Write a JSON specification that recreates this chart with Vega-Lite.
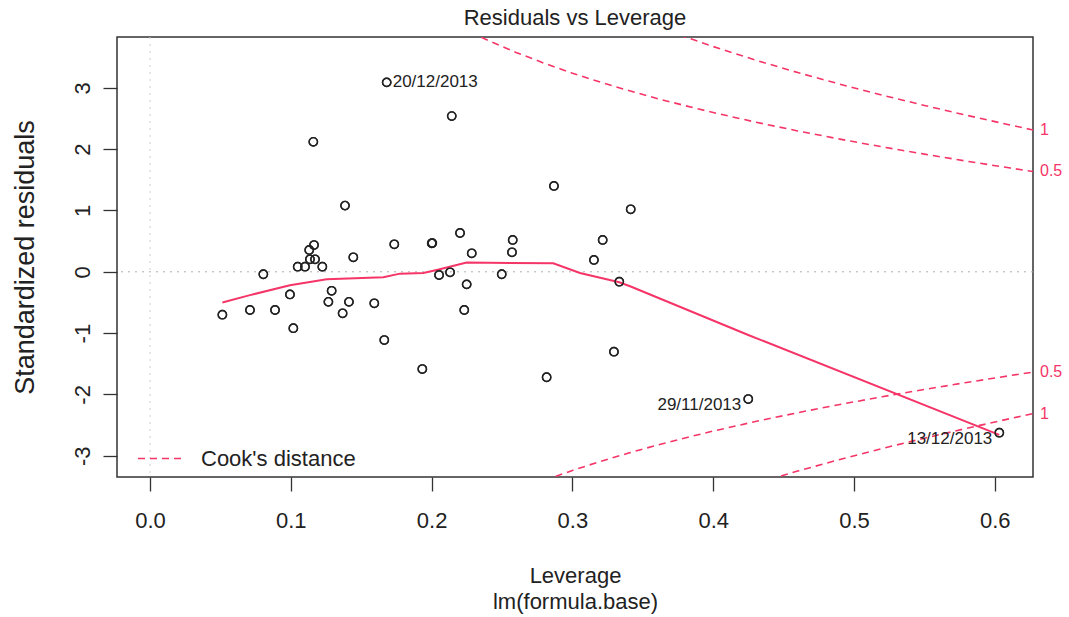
{
  "$schema": "https://vega.github.io/schema/vega-lite/v6.json",
  "width": 916,
  "height": 440,
  "autosize": "none",
  "padding": {"left": 117, "top": 37, "right": 36, "bottom": 140},
  "background": "white",
  "config": {
    "font": "Liberation Sans",
    "view": {"stroke": "#333333", "strokeWidth": 1.5}
  },
  "title": {
    "text": "Residuals vs Leverage",
    "fontSize": 22,
    "fontWeight": "normal",
    "color": "#222222",
    "anchor": "middle",
    "frame": "group",
    "offset": 7
  },
  "datasets": {
    "obs": [
      {"h": 0.0514, "r": -0.70},
      {"h": 0.0710, "r": -0.623},
      {"h": 0.0805, "r": -0.04},
      {"h": 0.0888, "r": -0.623},
      {"h": 0.0994, "r": -0.37},
      {"h": 0.1018, "r": -0.92},
      {"h": 0.1049, "r": 0.083},
      {"h": 0.1101, "r": 0.083},
      {"h": 0.1131, "r": 0.356},
      {"h": 0.1165, "r": 0.437},
      {"h": 0.1136, "r": 0.204},
      {"h": 0.1172, "r": 0.204},
      {"h": 0.1224, "r": 0.083},
      {"h": 0.1290, "r": -0.31},
      {"h": 0.1267, "r": -0.49},
      {"h": 0.1413, "r": -0.49},
      {"h": 0.1368, "r": -0.677},
      {"h": 0.1444, "r": 0.237},
      {"h": 0.1593, "r": -0.514},
      {"h": 0.1664, "r": -1.113},
      {"h": 0.1735, "r": 0.449},
      {"h": 0.2001, "r": 0.465},
      {"h": 0.2005, "r": 0.468},
      {"h": 0.2202, "r": 0.633},
      {"h": 0.2285, "r": 0.302},
      {"h": 0.2053, "r": -0.052},
      {"h": 0.2131, "r": -0.008},
      {"h": 0.2249, "r": -0.205},
      {"h": 0.2232, "r": -0.623},
      {"h": 0.2498, "r": -0.04},
      {"h": 0.2576, "r": 0.519},
      {"h": 0.2571, "r": 0.318},
      {"h": 0.3414, "r": 1.02},
      {"h": 0.3215, "r": 0.519},
      {"h": 0.3153, "r": 0.193},
      {"h": 0.3333, "r": -0.161},
      {"h": 0.3295, "r": -1.303},
      {"h": 0.1681, "r": 3.09},
      {"h": 0.2143, "r": 2.54},
      {"h": 0.1160, "r": 2.12},
      {"h": 0.1385, "r": 1.08},
      {"h": 0.2869, "r": 1.40},
      {"h": 0.1934, "r": -1.586},
      {"h": 0.2817, "r": -1.72},
      {"h": 0.4249, "r": -2.075},
      {"h": 0.6032, "r": -2.625}
    ],
    "smooth": [
      {"h": 0.0514, "r": -0.50},
      {"h": 0.0710, "r": -0.38},
      {"h": 0.0994, "r": -0.22},
      {"h": 0.1255, "r": -0.12},
      {"h": 0.1657, "r": -0.09},
      {"h": 0.1776, "r": -0.03},
      {"h": 0.1941, "r": -0.02},
      {"h": 0.2036, "r": 0.03},
      {"h": 0.2249, "r": 0.15},
      {"h": 0.2864, "r": 0.14},
      {"h": 0.3054, "r": -0.02},
      {"h": 0.3333, "r": -0.17},
      {"h": 0.3414, "r": -0.24},
      {"h": 0.4249, "r": -1.03},
      {"h": 0.6032, "r": -2.66}
    ],
    "cook": [
      {"curve": "0.5 upper", "series": "Cook's distance", "h": 0.22, "r": 3.994},
      {"curve": "0.5 upper", "series": "Cook's distance", "h": 0.24, "r": 3.775},
      {"curve": "0.5 upper", "series": "Cook's distance", "h": 0.26, "r": 3.579},
      {"curve": "0.5 upper", "series": "Cook's distance", "h": 0.28, "r": 3.402},
      {"curve": "0.5 upper", "series": "Cook's distance", "h": 0.30, "r": 3.240},
      {"curve": "0.5 upper", "series": "Cook's distance", "h": 0.32, "r": 3.092},
      {"curve": "0.5 upper", "series": "Cook's distance", "h": 0.34, "r": 2.956},
      {"curve": "0.5 upper", "series": "Cook's distance", "h": 0.36, "r": 2.828},
      {"curve": "0.5 upper", "series": "Cook's distance", "h": 0.38, "r": 2.710},
      {"curve": "0.5 upper", "series": "Cook's distance", "h": 0.40, "r": 2.598},
      {"curve": "0.5 upper", "series": "Cook's distance", "h": 0.43, "r": 2.442},
      {"curve": "0.5 upper", "series": "Cook's distance", "h": 0.46, "r": 2.298},
      {"curve": "0.5 upper", "series": "Cook's distance", "h": 0.49, "r": 2.164},
      {"curve": "0.5 upper", "series": "Cook's distance", "h": 0.52, "r": 2.038},
      {"curve": "0.5 upper", "series": "Cook's distance", "h": 0.55, "r": 1.919},
      {"curve": "0.5 upper", "series": "Cook's distance", "h": 0.58, "r": 1.805},
      {"curve": "0.5 upper", "series": "Cook's distance", "h": 0.61, "r": 1.696},
      {"curve": "0.5 upper", "series": "Cook's distance", "h": 0.63, "r": 1.626},
      {"curve": "0.5 lower", "series": "Cook's distance", "h": 0.28, "r": -3.402},
      {"curve": "0.5 lower", "series": "Cook's distance", "h": 0.30, "r": -3.240},
      {"curve": "0.5 lower", "series": "Cook's distance", "h": 0.32, "r": -3.092},
      {"curve": "0.5 lower", "series": "Cook's distance", "h": 0.34, "r": -2.956},
      {"curve": "0.5 lower", "series": "Cook's distance", "h": 0.36, "r": -2.828},
      {"curve": "0.5 lower", "series": "Cook's distance", "h": 0.38, "r": -2.710},
      {"curve": "0.5 lower", "series": "Cook's distance", "h": 0.40, "r": -2.598},
      {"curve": "0.5 lower", "series": "Cook's distance", "h": 0.43, "r": -2.442},
      {"curve": "0.5 lower", "series": "Cook's distance", "h": 0.46, "r": -2.298},
      {"curve": "0.5 lower", "series": "Cook's distance", "h": 0.49, "r": -2.164},
      {"curve": "0.5 lower", "series": "Cook's distance", "h": 0.52, "r": -2.038},
      {"curve": "0.5 lower", "series": "Cook's distance", "h": 0.55, "r": -1.919},
      {"curve": "0.5 lower", "series": "Cook's distance", "h": 0.58, "r": -1.805},
      {"curve": "0.5 lower", "series": "Cook's distance", "h": 0.61, "r": -1.696},
      {"curve": "0.5 lower", "series": "Cook's distance", "h": 0.63, "r": -1.626},
      {"curve": "1 upper", "series": "Cook's distance", "h": 0.36, "r": 4.000},
      {"curve": "1 upper", "series": "Cook's distance", "h": 0.38, "r": 3.832},
      {"curve": "1 upper", "series": "Cook's distance", "h": 0.40, "r": 3.674},
      {"curve": "1 upper", "series": "Cook's distance", "h": 0.43, "r": 3.454},
      {"curve": "1 upper", "series": "Cook's distance", "h": 0.46, "r": 3.250},
      {"curve": "1 upper", "series": "Cook's distance", "h": 0.49, "r": 3.061},
      {"curve": "1 upper", "series": "Cook's distance", "h": 0.52, "r": 2.882},
      {"curve": "1 upper", "series": "Cook's distance", "h": 0.55, "r": 2.714},
      {"curve": "1 upper", "series": "Cook's distance", "h": 0.58, "r": 2.553},
      {"curve": "1 upper", "series": "Cook's distance", "h": 0.61, "r": 2.399},
      {"curve": "1 upper", "series": "Cook's distance", "h": 0.63, "r": 2.299},
      {"curve": "1 lower", "series": "Cook's distance", "h": 0.44, "r": -3.384},
      {"curve": "1 lower", "series": "Cook's distance", "h": 0.46, "r": -3.250},
      {"curve": "1 lower", "series": "Cook's distance", "h": 0.49, "r": -3.061},
      {"curve": "1 lower", "series": "Cook's distance", "h": 0.52, "r": -2.882},
      {"curve": "1 lower", "series": "Cook's distance", "h": 0.55, "r": -2.714},
      {"curve": "1 lower", "series": "Cook's distance", "h": 0.58, "r": -2.553},
      {"curve": "1 lower", "series": "Cook's distance", "h": 0.61, "r": -2.399},
      {"curve": "1 lower", "series": "Cook's distance", "h": 0.63, "r": -2.299}
    ],
    "levels": [
      {"h": 0.62713, "r": 2.314, "level": "1"},
      {"h": 0.62713, "r": 1.637, "level": "0.5"},
      {"h": 0.62713, "r": -1.637, "level": "0.5"},
      {"h": 0.62713, "r": -2.314, "level": "1"}
    ],
    "idLeft": [
      {"h": 0.1681, "r": 3.09, "id": "20/12/2013"}
    ],
    "idRight": [
      {"h": 0.4249, "r": -2.075, "id": "29/11/2013"},
      {"h": 0.6032, "r": -2.625, "id": "13/12/2013"}
    ]
  },
  "layer": [
    {
      "data": {"name": "obs"},
      "mark": {"type": "point", "shape": "circle", "filled": false, "size": 70, "stroke": "#222222", "strokeWidth": 1.4, "opacity": 1},
      "encoding": {
        "x": {
          "field": "h",
          "type": "quantitative",
          "scale": {"domain": [-0.02344, 0.62713], "nice": false, "zero": false},
          "axis": {
            "values": [0, 0.1, 0.2, 0.3, 0.4, 0.5, 0.6],
            "format": ".1f",
            "domain": false,
            "grid": false,
            "tickSize": 14,
            "tickColor": "#333333",
            "tickWidth": 1.3,
            "labelFontSize": 22,
            "labelColor": "#222222",
            "labelPadding": 19,
            "title": ["Leverage", "lm(formula.base)"],
            "titleFontSize": 22,
            "titleFontWeight": "normal",
            "titleColor": "#222222",
            "titleLineHeight": 26,
            "titleX": 458,
            "titleY": 105,
            "titleAlign": "center",
            "titleBaseline": "alphabetic"
          }
        },
        "y": {
          "field": "r",
          "type": "quantitative",
          "scale": {"domain": [-3.347, 3.83], "nice": false, "zero": false},
          "axis": {
            "values": [-3, -2, -1, 0, 1, 2, 3],
            "labelExpr": "'' + datum.value",
            "domain": false,
            "grid": false,
            "tickSize": 14,
            "tickColor": "#333333",
            "tickWidth": 1.3,
            "labelFontSize": 22,
            "labelColor": "#222222",
            "labelAngle": -90,
            "labelAlign": "center",
            "labelBaseline": "bottom",
            "labelPadding": 9,
            "title": "Standardized residuals",
            "titleFontSize": 27,
            "titleFontWeight": "normal",
            "titleColor": "#222222",
            "titleAngle": -90,
            "titleX": -92,
            "titleY": 220,
            "titleAlign": "center",
            "titleBaseline": "middle"
          }
        }
      }
    },
    {
      "data": {"values": [{"r": 0}]},
      "mark": {"type": "rule", "stroke": "#b0b0b0", "strokeWidth": 1, "strokeDash": [2, 5]},
      "encoding": {
        "y": {"field": "r", "type": "quantitative"}
      }
    },
    {
      "data": {"values": [{"h": 0}]},
      "mark": {"type": "rule", "stroke": "#d0d0d0", "strokeWidth": 1, "strokeDash": [2, 5]},
      "encoding": {
        "x": {"field": "h", "type": "quantitative"}
      }
    },
    {
      "data": {"name": "cook"},
      "mark": {"type": "line", "clip": true, "stroke": "#F53567", "strokeWidth": 1.6},
      "encoding": {
        "x": {"field": "h", "type": "quantitative"},
        "y": {"field": "r", "type": "quantitative"},
        "detail": {"field": "curve", "type": "nominal"},
        "strokeDash": {
          "field": "series",
          "type": "nominal",
          "scale": {"range": [[7, 5]]},
          "legend": {
            "orient": "none",
            "legendX": 20,
            "legendY": 399,
            "title": null,
            "padding": 0,
            "symbolType": "stroke",
            "symbolSize": 1849,
            "symbolStrokeWidth": 1.6,
            "symbolStrokeColor": "#F53567",
            "labelFontSize": 22,
            "labelColor": "#222222",
            "labelOffset": 19
          }
        }
      }
    },
    {
      "data": {"name": "smooth"},
      "mark": {"type": "line", "stroke": "#F53567", "strokeWidth": 2},
      "encoding": {
        "x": {"field": "h", "type": "quantitative"},
        "y": {"field": "r", "type": "quantitative"}
      }
    },
    {
      "data": {"name": "obs"},
      "mark": {"type": "point", "shape": "circle", "filled": false, "size": 70, "stroke": "#222222", "strokeWidth": 1.4, "opacity": 1},
      "encoding": {
        "x": {"field": "h", "type": "quantitative"},
        "y": {"field": "r", "type": "quantitative"}
      }
    },
    {
      "data": {"name": "idLeft"},
      "mark": {"type": "text", "align": "left", "baseline": "middle", "dx": 6, "fontSize": 17, "color": "#222222"},
      "encoding": {
        "x": {"field": "h", "type": "quantitative"},
        "y": {"field": "r", "type": "quantitative"},
        "text": {"field": "id"}
      }
    },
    {
      "data": {"name": "idRight"},
      "mark": {"type": "text", "align": "right", "baseline": "middle", "dx": -7, "dy": 6, "fontSize": 17, "color": "#222222"},
      "encoding": {
        "x": {"field": "h", "type": "quantitative"},
        "y": {"field": "r", "type": "quantitative"},
        "text": {"field": "id"}
      }
    },
    {
      "data": {"name": "levels"},
      "mark": {"type": "text", "align": "left", "baseline": "middle", "dx": 7, "fontSize": 16, "color": "#F53567", "clip": false},
      "encoding": {
        "x": {"field": "h", "type": "quantitative"},
        "y": {"field": "r", "type": "quantitative"},
        "text": {"field": "level"}
      }
    }
  ]
}
